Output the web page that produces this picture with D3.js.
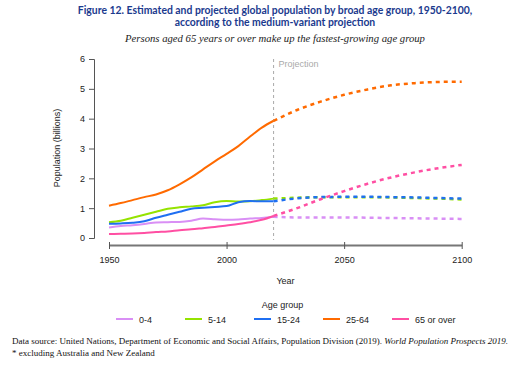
<!DOCTYPE html>
<meta charset="utf-8">
<style>
body { margin: 0; background: #fff; }
svg { display: block; }
.axis-label, .tick-label, .legend { font-family: "Liberation Sans", Arial, sans-serif; fill: #222; }
</style>
<body>
<script src="https://d3js.org/d3.v7.min.js"></script>
<script>
// estimated 1950-2020, projected 2020-2100 (billions)
var yearsEst = [1950,1955,1960,1965,1970,1975,1980,1985,1990,1995,2000,2005,2010,2015,2020];
var yearsProj = [2020,2030,2040,2050,2060,2070,2080,2090,2100];

var groups = ["0-4", "5-14", "15-24", "25-64", "65 or over"];
var colors = ["#d98ff5", "#95e300", "#1f6ff2", "#ff6a00", "#ff4fa3"];

var est0_4   = [0.35,0.40,0.43,0.47,0.52,0.53,0.54,0.58,0.65,0.63,0.61,0.62,0.65,0.67,0.71];
var est5_14  = [0.53,0.58,0.68,0.78,0.88,0.98,1.03,1.06,1.10,1.20,1.24,1.22,1.23,1.27,1.32];
var est15_24 = [0.48,0.49,0.51,0.56,0.68,0.78,0.88,0.98,1.01,1.04,1.07,1.20,1.24,1.23,1.23];
var est25_64 = [1.08,1.17,1.27,1.37,1.46,1.60,1.80,2.03,2.30,2.57,2.82,3.08,3.40,3.70,3.93];
var est65    = [0.13,0.14,0.15,0.17,0.20,0.22,0.26,0.29,0.33,0.37,0.42,0.47,0.53,0.61,0.74];

var proj0_4   = [0.71,0.69,0.69,0.69,0.68,0.67,0.66,0.65,0.64];
var proj5_14  = [1.32,1.35,1.37,1.37,1.37,1.36,1.34,1.32,1.29];
var proj15_24 = [1.23,1.33,1.37,1.38,1.38,1.37,1.36,1.34,1.32];
var proj25_64 = [3.93,4.29,4.57,4.80,4.98,5.12,5.19,5.23,5.24];
var proj65    = [0.74,1.00,1.30,1.57,1.82,2.03,2.20,2.34,2.45];

var yTicks = [0,1,2,3,4,5,6];
var xTicks = [1950,2000,2050,2100];

var estSeries = [est0_4, est5_14, est15_24, est25_64, est65];
var projSeries = [proj0_4, proj5_14, proj15_24, proj25_64, proj65];

var W = 517, H = 365;
var svg = d3.select("body").append("svg").attr("width", W).attr("height", H);

var x = d3.scaleLinear().domain([1950, 2100]).range([109, 461.7]);
var y = d3.scaleLinear().domain([0, 6]).range([238, 59]);

// titles
svg.append("text").attr("x", 275).attr("y", 14).attr("text-anchor", "middle")
  .style("font-family", "Lato, 'Open Sans', sans-serif").style("font-weight", "bold")
  .style("font-size", "10.4px").style("fill", "#1b3a8e")
  .text("Figure 12. Estimated and projected global population by broad age group, 1950-2100,");
svg.append("text").attr("x", 275).attr("y", 26).attr("text-anchor", "middle")
  .style("font-family", "Lato, 'Open Sans', sans-serif").style("font-weight", "bold")
  .style("font-size", "10.4px").style("fill", "#1b3a8e")
  .text("according to the medium-variant projection");
svg.append("text").attr("x", 275).attr("y", 42).attr("text-anchor", "middle")
  .style("font-family", "'Liberation Serif', serif").style("font-style", "italic")
  .style("font-size", "10.7px").style("fill", "#222")
  .text("Persons aged 65 years or over make up the fastest-growing age group");

// y axis
var yAxis = svg.append("g").attr("transform", "translate(94,0)")
  .call(d3.axisLeft(y).tickValues(yTicks).tickFormat(d3.format("d")).tickSize(5).tickPadding(4));
yAxis.selectAll("line, path").attr("stroke", "#555");
yAxis.selectAll("text").attr("class", "tick-label").style("font-size", "9px").attr("font-family", null);
svg.append("text").attr("class", "axis-label")
  .attr("transform", "translate(60,148) rotate(-90)").attr("text-anchor", "middle")
  .style("font-size", "9px").text("Population (billions)");

// x axis
var xAxis = svg.append("g").attr("transform", "translate(0,245)")
  .call(d3.axisBottom(x).tickValues(xTicks).tickFormat(d3.format("d")).tickSize(4).tickPadding(8).tickSizeOuter(0));
xAxis.select("path").attr("stroke", "#777").attr("stroke-width", 2);
xAxis.selectAll("line").attr("stroke", "#555").attr("y1", -3);
xAxis.selectAll("text").attr("class", "tick-label").style("font-size", "9px").attr("font-family", null);
svg.append("text").attr("class", "axis-label").attr("x", 285.5).attr("y", 284)
  .attr("text-anchor", "middle").style("font-size", "9px").text("Year");

// projection marker
svg.append("line").attr("x1", x(2020)).attr("x2", x(2020)).attr("y1", 59).attr("y2", 240)
  .attr("stroke", "#aaa").attr("stroke-width", 1).attr("stroke-dasharray", "3,3");
svg.append("text").attr("x", x(2020) + 5).attr("y", 67)
  .style("font-family", "'Liberation Sans', Arial, sans-serif").style("font-size", "9px")
  .style("fill", "#aaa").text("Projection");

var line = d3.line().x(function(d) { return x(d[0]); }).y(function(d) { return y(d[1]); })
  .curve(d3.curveMonotoneX);

// estimated (solid) and projected (dashed) lines
projSeries.forEach(function(s, i) {
  svg.append("path").datum(d3.zip(yearsProj, s)).attr("d", line)
    .attr("fill", "none").attr("stroke", colors[i]).attr("stroke-width", 2.5)
    .attr("stroke-dasharray", "4,4");
});
estSeries.forEach(function(s, i) {
  svg.append("path").datum(d3.zip(yearsEst, s)).attr("d", line)
    .attr("fill", "none").attr("stroke", colors[i]).attr("stroke-width", 2);
});

// legend
svg.append("text").attr("class", "legend").attr("x", 282.5).attr("y", 308)
  .attr("text-anchor", "middle").style("font-size", "9px").text("Age group");
var leg = svg.selectAll(".leg").data(groups).enter().append("g")
  .attr("transform", function(d, i) { return "translate(" + (116 + i * 69) + ",319)"; });
leg.append("line").attr("x1", 0).attr("x2", 17).attr("stroke", function(d, i) { return colors[i]; })
  .attr("stroke-width", 2);
leg.append("text").attr("class", "legend").attr("x", 23).attr("y", 3.5)
  .style("font-size", "9px").text(function(d) { return d; });

// footer
var foot = svg.append("text").attr("x", 12).attr("y", 344)
  .style("font-family", "'Liberation Serif', serif").style("font-size", "9px").style("fill", "#111");
foot.append("tspan").text("Data source: United Nations, Department of Economic and Social Affairs, Population Division (2019). ");
foot.append("tspan").style("font-style", "italic").text("World Population Prospects 2019.");
svg.append("text").attr("x", 12).attr("y", 356)
  .style("font-family", "'Liberation Serif', serif").style("font-size", "9px").style("fill", "#111")
  .text("* excluding Australia and New Zealand");
</script>
</body>
